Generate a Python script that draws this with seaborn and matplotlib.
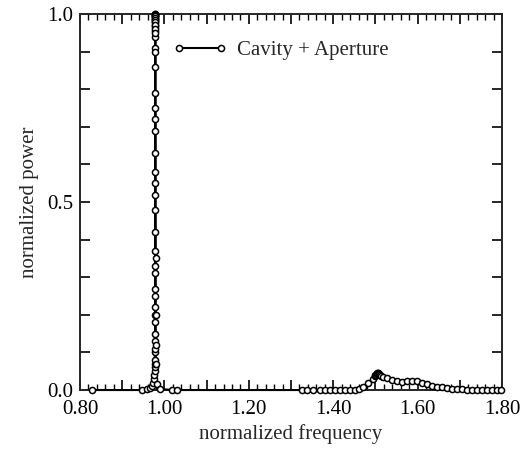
import matplotlib
matplotlib.use("Agg")
import matplotlib.pyplot as plt
from matplotlib.ticker import MultipleLocator, FuncFormatter
import numpy as np
import pandas as pd
import seaborn as sns

# Frequency sweep (normalized units)
freq = [0.828, 0.947, 0.958, 0.966, 0.971, 0.974, 0.9755, 0.9762, 0.9766,
        0.9769, 0.9771, 0.9773, 0.9774, 0.9775, 0.9776, 0.9777, 0.9778, 0.9778,
        0.9779, 0.9779, 0.9780, 0.9780, 0.9780, 0.9781, 0.9781, 0.9781, 0.9781,
        0.9782, 0.9782, 0.9782, 0.9782, 0.9782, 0.9783, 0.9783, 0.9783, 0.9783,
        0.9783, 0.9783, 0.9783, 0.9784, 0.9784, 0.9784, 0.9784, 0.9784, 0.9784,
        0.9784, 0.9784, 0.9784, 0.9784, 0.9785, 0.9785, 0.9785, 0.9785, 0.9785,
        0.9786, 0.9787, 0.9788, 0.9790, 0.9792, 0.9795, 0.980, 0.983, 0.990,
        1.018, 1.030,
        1.326, 1.337, 1.352, 1.368, 1.380, 1.392, 1.404, 1.415, 1.427, 1.439,
        1.451, 1.462, 1.471, 1.483, 1.493, 1.498, 1.500, 1.502, 1.503, 1.504,
        1.505, 1.506, 1.507, 1.508, 1.510, 1.513, 1.518, 1.527, 1.539, 1.551,
        1.563, 1.574, 1.586, 1.598, 1.610, 1.622, 1.634, 1.645, 1.657, 1.669,
        1.681, 1.693, 1.705, 1.717, 1.728, 1.740, 1.752, 1.764, 1.775, 1.787,
        1.798]
power = [0.0, 0.0, 0.002, 0.005, 0.01, 0.02, 0.03, 0.04, 0.05,
         0.06, 0.07, 0.08, 0.10, 0.11, 0.13, 0.15, 0.18, 0.20,
         0.22, 0.25, 0.27, 0.31, 0.33, 0.37, 0.42, 0.48, 0.52,
         0.58, 0.63, 0.69, 0.72, 0.79, 0.86, 0.91, 0.94, 0.955,
         0.965, 0.972, 0.978, 0.983, 0.987, 0.991, 0.994, 0.997, 0.999,
         1.0, 0.998, 0.995, 0.99, 0.985, 0.978, 0.97, 0.96, 0.95,
         0.90, 0.75, 0.55, 0.35, 0.20, 0.12, 0.07, 0.015, 0.003,
         0.0, 0.0,
         0.0, 0.0, 0.0, 0.0, 0.0, 0.0, 0.0, 0.0, 0.0, 0.0,
         0.001, 0.003, 0.007, 0.019, 0.030, 0.036, 0.039, 0.041, 0.043, 0.044,
         0.045, 0.044, 0.043, 0.042, 0.040, 0.037, 0.034, 0.031, 0.027, 0.024,
         0.022, 0.023, 0.023, 0.023, 0.020, 0.016, 0.012, 0.009, 0.007, 0.005,
         0.004, 0.003, 0.002, 0.001, 0.001, 0.001, 0.0, 0.0, 0.0, 0.0,
         0.0]

df = pd.DataFrame({"freq": freq, "power": power})

sns.set_style("ticks")
plt.rcParams['font.family'] = ['Liberation Serif', 'DejaVu Serif']
plt.rcParams['font.size'] = 15
plt.rcParams['axes.linewidth'] = 1.4

fig = plt.figure(figsize=(5.23, 4.53), dpi=100)
ax = fig.add_axes([0.153, 0.139, 0.807, 0.830])

sns.lineplot(data=df, x="freq", y="power", sort=False, estimator=None,
             color="black", linewidth=1.5, marker="o", markersize=4.4,
             markerfacecolor="white", markeredgecolor="black",
             markeredgewidth=1.1, label="Cavity + Aperture", ax=ax,
             clip_on=False, zorder=5)

ax.set_xlim(0.80, 1.80)
ax.set_ylim(0.0, 1.0)
ax.xaxis.set_major_locator(MultipleLocator(0.1))
ax.xaxis.set_minor_locator(MultipleLocator(0.02))
ax.xaxis.set_major_formatter(FuncFormatter(
    lambda v, p: f"{v:.2f}" if round(v * 10) % 2 == 0 else ""))
ax.yaxis.set_major_locator(MultipleLocator(0.1))
ax.yaxis.set_major_formatter(FuncFormatter(
    lambda v, p: f"{v:.1f}" if round(v * 10) % 5 == 0 else ""))
ax.tick_params(which="both", direction="in", top=True, right=True,
               labelsize=15, colors="black")
ax.tick_params(which="major", length=7, width=1.2, pad=5)
ax.tick_params(axis="x", which="major", pad=7)
ax.tick_params(which="minor", length=4.5, width=1.0)

ax.set_xlabel("normalized frequency", fontsize=15, labelpad=4)
ax.set_ylabel("normalized power", fontsize=15, labelpad=6)

ax.legend(loc="upper left", bbox_to_anchor=(0.175, 0.98), frameon=False,
          numpoints=2, handlelength=2.6, handletextpad=0.5, fontsize=15)

fig.savefig("out.png", dpi=100)
